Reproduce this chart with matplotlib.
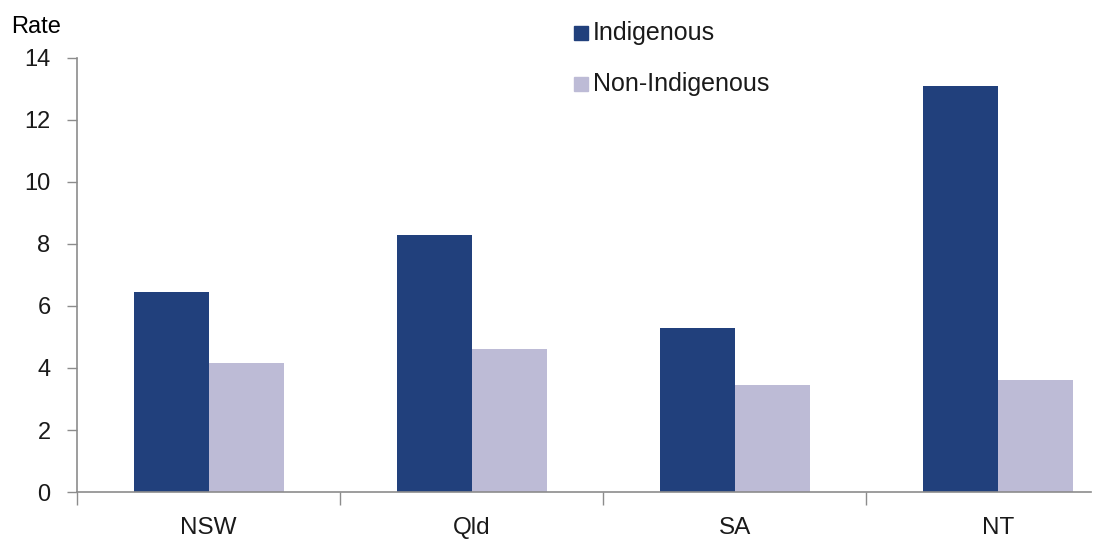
import numpy as np
import matplotlib
matplotlib.use('Agg')
import matplotlib.pyplot as plt
from matplotlib.patches import Rectangle

states = ['NSW', 'Qld', 'SA', 'NT']
indigenous = [6.45, 8.3, 5.3, 13.1]
non_indigenous = [4.15, 4.6, 3.45, 3.6]
series_names = ['Indigenous', 'Non-Indigenous']
y_ticks = [0, 2, 4, 6, 8, 10, 12, 14]

dark = '#21407C'
light = '#BDBBD6'
axis_grey = '#8C8C8C'
text_col = '#1A1A1A'

plt.rcParams['font.family'] = ['Liberation Sans', 'DejaVu Sans']


def main():
    fig = plt.figure(figsize=(11, 5.45), dpi=100)
    ax = fig.add_axes([0.07, 0.0972, 0.922, 0.7966])

    x = np.arange(len(states))
    width = 0.285
    ax.bar(x - width / 2, indigenous, width, color=dark, edgecolor='none')
    ax.bar(x + width / 2, non_indigenous, width, color=light, edgecolor='none')

    ax.set_xlim(-0.5, 3.355)
    ax.set_ylim(0, 14)
    ax.set_yticks(y_ticks)
    ax.tick_params(axis='y', direction='out', length=7, width=1, color=axis_grey,
                   labelsize=17, pad=12, labelcolor=text_col)

    # category boundary ticks (major) and labels (minor)
    ax.set_xticks(np.arange(len(states)) - 0.5)
    ax.set_xticklabels([])
    ax.tick_params(axis='x', which='major', direction='out', length=9, width=1, color=axis_grey)
    ax.set_xticks(x, minor=True)
    ax.set_xticklabels(states, minor=True)
    ax.tick_params(axis='x', which='minor', length=0, pad=18, labelsize=17.5, labelcolor=text_col)

    for side in ['top', 'right']:
        ax.spines[side].set_visible(False)
    for side in ['left', 'bottom']:
        ax.spines[side].set_color(axis_grey)
        ax.spines[side].set_linewidth(1.2)

    fig.text(0.010, 1 - 27 / 545, 'Rate', fontsize=17, color='#000000', va='center')

    # legend as in the original: small squares with labels
    for i, (name, col) in enumerate(zip(series_names, [dark, light])):
        ycen = 1 - (33 + 51 * i) / 545
        fig.patches.append(Rectangle((574 / 1100, ycen - 7 / 545), 14 / 1100, 14 / 545,
                                     transform=fig.transFigure, color=col))
        fig.text(593 / 1100, ycen, name, fontsize=18, color=text_col, va='center')

    fig.savefig('out.png', dpi=100)


if __name__ == '__main__':
    main()
